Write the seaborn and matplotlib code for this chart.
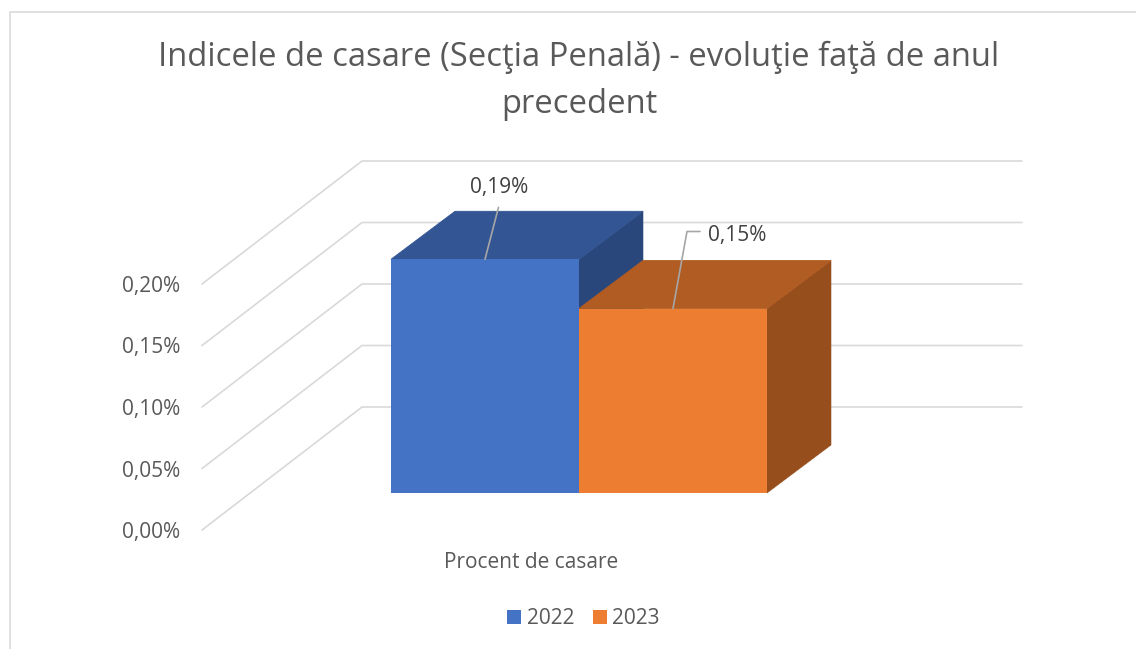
import matplotlib
matplotlib.use("Agg")
import matplotlib.pyplot as plt
import pandas as pd
import seaborn as sns
from matplotlib.patches import Polygon, Patch

title = "Indicele de casare (Secţia Penală) - evoluţie faţă de anul\nprecedent"
category = "Procent de casare"
years = ["2022", "2023"]
values = [0.19, 0.15]
value_labels = ["0,19%", "0,15%"]
ticks = [0.00, 0.05, 0.10, 0.15, 0.20]
tick_labels = ["0,00%", "0,05%", "0,10%", "0,15%", "0,20%"]
front_colors = ["#4472C4", "#ED7D31"]
top_colors = ["#335593", "#B15C23"]
side_colors = ["#2A477C", "#964E1D"]

W, H = 1136, 649
FONT = ["Open Sans", "DejaVu Sans"]
TXT = "#595959"
GRID = "#D9D9D9"
FS = 15

sns.set_theme(style="white", rc={"font.family": FONT})
plt.rcParams["font.family"] = FONT
fig = plt.figure(figsize=(W / 100, H / 100), dpi=100, facecolor="white")
ax = fig.add_axes([0, 0, 1, 1])

# Scale: pixels per value unit / per category; baseline of the bar fronts
PX_Y, PX_X = 1230.0, 188.0
X0_PX, Y0_PX = 485.0, 493.0
ax.set_xlim(-X0_PX / PX_X, (W - X0_PX) / PX_X)
ax.set_ylim((Y0_PX - H) / PX_Y, Y0_PX / PX_Y)
ax.axis("off")

dx_px = lambda p: p / PX_X
dy_px = lambda p: p / PX_Y

# Depth offsets
bar_dx, bar_dy = dx_px(64), dy_px(48)
wall_left = dx_px(202 - X0_PX)
wall_dx, wall_dy = dx_px(160), dy_px(123)
front_shift = dy_px(-37)   # front edge of floor sits below bar baseline
wall_right = dx_px(1022 - X0_PX)

# Gridlines (side wall + back wall)
for t, lab in zip(ticks, tick_labels):
    y = t + front_shift
    ax.plot([wall_left, wall_left + wall_dx, wall_right],
            [y, y + wall_dy, y + wall_dy], color=GRID, lw=1.2, zorder=1,
            solid_joinstyle="miter")
    ax.text(wall_left - dx_px(22), y - dy_px(2.5), lab, ha="right",
            va="center", fontsize=FS, color=TXT)

# Bar fronts through seaborn
df = pd.DataFrame({"year": years, "value": values})
sns.barplot(data=df, x="year", y="value", hue="year", palette=front_colors,
            width=1.0, legend=False, ax=ax, zorder=5, linewidth=0, saturation=1)
ax.set_xlim(-X0_PX / PX_X, (W - X0_PX) / PX_X)
ax.set_ylim((Y0_PX - H) / PX_Y, Y0_PX / PX_Y)
ax.axis("off")

# Top and side faces derived from each bar
for i, v in enumerate(values):
    l, r = i - 0.5, i + 0.5
    ax.add_patch(Polygon([(r, 0), (r + bar_dx, bar_dy), (r + bar_dx, v + bar_dy), (r, v)],
                         facecolor=side_colors[i], edgecolor=side_colors[i], lw=0.4,
                         zorder=3 + i * 0.1))
    ax.add_patch(Polygon([(l, v), (l + bar_dx, v + bar_dy), (r + bar_dx, v + bar_dy), (r, v)],
                         facecolor=top_colors[i], edgecolor=top_colors[i], lw=0.6,
                         zorder=3 + i * 0.1))

# Leader lines and labels
LEAD = "#A6A6A6"
ax.plot([0, dx_px(13.5)], [values[0], values[0] + dy_px(52)], color=LEAD, lw=1.2, zorder=7)
ax.text(dx_px(14), values[0] + dy_px(72), value_labels[0], ha="center", va="center",
        fontsize=FS, color="#404040", zorder=8)
ax.plot([1, 1 + dx_px(14), 1 + dx_px(27)],
        [values[1], values[1] + dy_px(77), values[1] + dy_px(77)],
        color=LEAD, lw=1.2, zorder=7)
ax.text(1 + dx_px(35), values[1] + dy_px(72.5), value_labels[1], ha="left", va="center",
        fontsize=FS, color="#404040", zorder=8)

# Category label, title
ax.text(0.5 - dx_px(48), dy_px(-69), category, ha="center", va="center",
        fontsize=FS, color=TXT)
fig.text(579 / W, 1 - 81 / H, title, ha="center", va="center", fontsize=23.55,
         color=TXT, linespacing=1.56)

# Legend
handles = [Patch(facecolor=c, edgecolor="none", label=y) for c, y in zip(front_colors, years)]
leg = fig.legend(handles=handles, loc="center", bbox_to_anchor=(583.5 / W, 1 - 619 / H),
                 ncol=2, frameon=False, fontsize=FS, handlelength=0.67, handleheight=0.67,
                 handletextpad=0.25, columnspacing=0.9, labelcolor=TXT)

# Chart frame
frame = dict(color="#DDDDDD", lw=1.3, transform=fig.transFigure, clip_on=False)
fig.add_artist(plt.Line2D([9.5 / W, 9.5 / W, 1], [0, 1 - 12 / H, 1 - 12 / H], **frame))

fig.savefig("out.png", dpi=100, facecolor="white")
